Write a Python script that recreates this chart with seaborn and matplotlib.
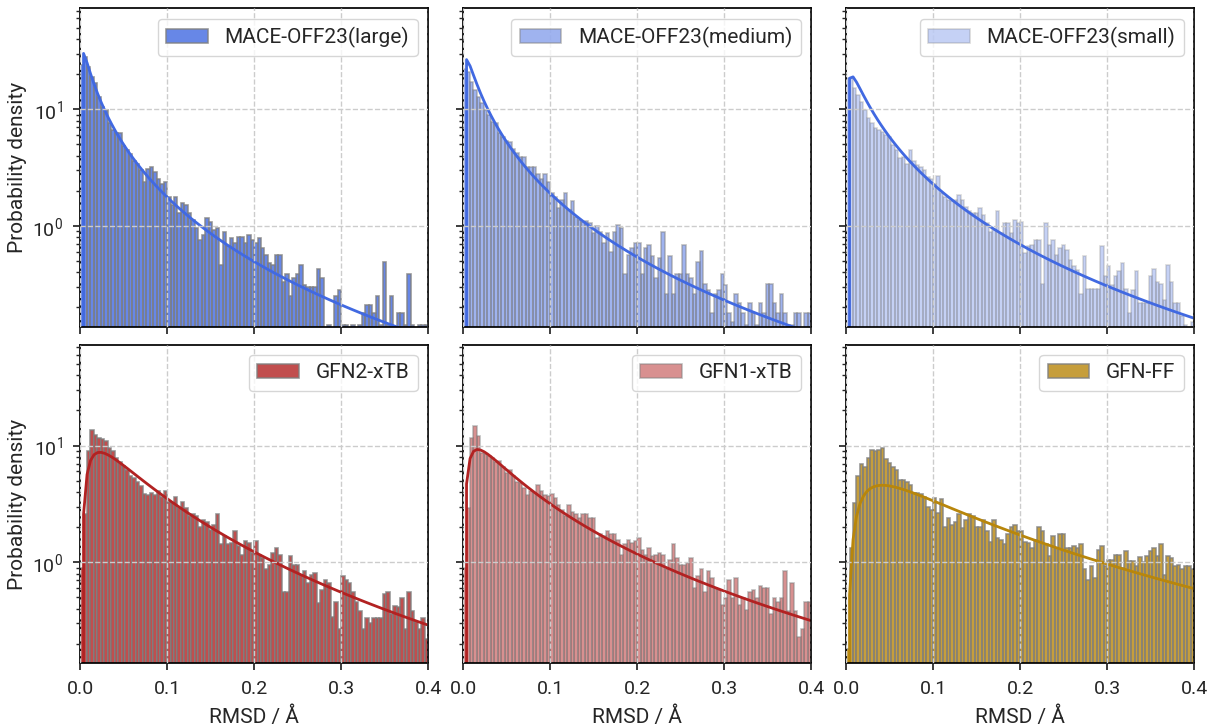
import numpy as np
import pandas as pd
import matplotlib
matplotlib.use("Agg")
import matplotlib.pyplot as plt
from matplotlib.colors import to_rgba
import seaborn as sns

# ---------------- data ----------------
names = ["MACE-OFF23(large)", "MACE-OFF23(medium)", "MACE-OFF23(small)",
         "GFN2-xTB", "GFN1-xTB", "GFN-FF"]

x_min, x_max, n_bins = 0.0, 0.4, 100

mace_large = [24, 28, 23, 18.8, 16.7, 12.8, 10.5, 9.9, 7.6, 6.65,
              6.2, 6.2, 4.8, 4.5, 4.1, 3.6, 3.4, 3.0, 2.4, 3.1,
              3.2, 2.9, 2.5, 2.3, 2.4, 1.78, 1.51, 1.78, 1.28, 1.56,
              1.51, 1.28, 1.12, 0.95, 0.76, 0.84, 1.16, 1.09, 0.92, 0.95,
              0.46, 0.89, 0.67, 0.78, 0.71, 0.81, 0.81, 0.71, 0.84, 0.76,
              0.72, 0.78, 0.64, 0.56, 0.48, 0.46, 0.56, 0.56, 0.33, 0.39,
              0.25, 0.36, 0.39, 0.46, 0.31, 0.30, 0.30, 0.30, 0.43, 0.36,
              0, 0.14, 0, 0.25, 0.28, 0.14, 0.14, 0, 0.14, 0,
              0.14, 0.18, 0.21, 0.21, 0.18, 0.25, 0.14, 0.49, 0.14, 0.25,
              0, 0.18, 0.18, 0.14, 0.39, 0.14, 0, 0.14, 0.14, 0.14]

mace_medium = [22, 21, 17, 14.6, 12.8, 11.3, 9.9, 8.9, 7.8, 7.6,
               6.2, 5.8, 5.3, 5.2, 4.6, 4.2, 3.9, 3.9, 3.2, 3.2,
               3.2, 2.8, 2.5, 2.8, 2.4, 1.9, 1.78, 1.42, 1.67, 1.9,
               1.37, 1.62, 1.2, 1.12, 1.09, 1.11, 1.05, 0.87, 0.99, 0.89,
               0.71, 0.87, 0.60, 0.89, 1.02, 0.95, 0.39, 0.56, 0.64, 0.71,
               0.71, 0.39, 0.64, 0.69, 0.55, 0.36, 0.53, 0.89, 0.26, 0.55,
               0.26, 0.39, 0.39, 0.69, 0.39, 0.36, 0.26, 0.49, 0.61, 0.32,
               0.28, 0.18, 0.26, 0.28, 0.39, 0.31, 0.18, 0.15, 0.26, 0.22,
               0.18, 0.14, 0.22, 0.18, 0.14, 0.22, 0.18, 0.32, 0.32, 0.22,
               0.18, 0.26, 0.18, 0.14, 0.14, 0.18, 0.18, 0, 0.18, 0.18]

mace_small = [18.4, 18.4, 15.1, 13.3, 11.6, 9.9, 8.4, 7.6, 6.9, 6.65,
              6.4, 6.0, 5.8, 4.9, 4.5, 3.8, 3.9, 3.4, 4.5, 3.6,
              3.3, 3.2, 3.0, 2.6, 2.5, 2.3, 2.7, 1.9, 1.78, 1.67,
              1.62, 1.67, 1.84, 1.67, 1.46, 1.33, 1.28, 1.28, 1.42, 1.24,
              1.05, 0.89, 0.92, 1.33, 0.87, 1.05, 1.05, 0.87, 1.12, 1.05,
              1.09, 0.58, 0.67, 0.69, 0.76, 0.76, 0.32, 1.05, 0.69, 0.76,
              0.56, 0.64, 0.69, 0.62, 0.51, 0.45, 0.42, 0.26, 0.55, 0.29,
              0.29, 0.29, 0.29, 0.67, 0.37, 0.45, 0.31, 0.37, 0.41, 0.48,
              0.29, 0.18, 0.28, 0.41, 0.22, 0.22, 0.22, 0.37, 0.43, 0.33,
              0.32, 0.23, 0.46, 0.33, 0.22, 0.22, 0.17, 0.14, 0, 0.15]

gfn2_xtb = [0.9, 2.6, 8.9, 13.7, 12.4, 11.6, 11.3, 11.0, 9.5, 8.9,
            7.8, 7.3, 6.65, 6.2, 5.5, 5.3, 4.9, 4.5, 3.85, 3.8,
            3.9, 3.8, 4.1, 3.6, 4.1, 3.3, 3.2, 3.6, 2.9, 3.3,
            2.9, 2.5, 2.6, 2.5, 2.0, 2.3, 2.2, 1.9, 2.1, 2.6,
            1.42, 1.67, 1.42, 1.46, 1.84, 1.37, 1.16, 1.51, 1.46, 1.2,
            1.51, 1.16, 1.09, 0.87, 0.95, 1.2, 1.33, 1.16, 0.56, 0.56,
            1.13, 0.95, 0.95, 0.78, 0.84, 0.67, 0.78, 0.81, 0.45, 0.58,
            0.71, 0.67, 0.34, 0.46, 0.27, 0.76, 0.71, 0.67, 0.56, 0.46,
            0.38, 0.27, 0.33, 0.30, 0.33, 0.33, 0.33, 0.53, 0.56, 0.36,
            0.42, 0.41, 0.49, 0.27, 0.56, 0.38, 0.31, 0.27, 0.33, 0.22]

gfn1_xtb = [0.9, 2.9, 11.6, 14.7, 12.0, 8.65, 8.4, 8.1, 7.9, 7.3,
            7.4, 6.6, 5.8, 6.2, 5.5, 4.9, 4.8, 4.3, 3.8, 4.1,
            3.9, 4.6, 4.1, 3.8, 3.7, 3.85, 3.55, 3.1, 2.8, 2.5,
            3.1, 2.7, 2.6, 2.4, 2.6, 2.6, 2.4, 2.4, 1.6, 1.73,
            1.67, 1.84, 1.73, 1.73, 1.56, 1.16, 1.42, 1.56, 1.46, 1.51,
            1.6, 1.28, 1.16, 1.33, 1.13, 1.16, 1.2, 1.16, 0.87, 1.05,
            1.42, 1.09, 0.95, 0.95, 0.99, 1.09, 0.6, 0.76, 0.87, 0.55,
            0.84, 0.73, 0.6, 0.58, 0.43, 0.49, 0.71, 0.49, 0.73, 0.43,
            0.49, 0.39, 0.55, 0.58, 0.49, 0.62, 0.6, 0.6, 0.36, 0.49,
            0.46, 0.49, 0.84, 0.38, 0.67, 0.38, 0.23, 0.27, 0.46, 0.46]

gfn_ff = [0.18, 1.33, 3.2, 5.5, 6.9, 6.6, 7.8, 9.2, 8.9, 9.2,
          9.55, 7.6, 7.1, 6.6, 6.2, 5.1, 5.1, 4.9, 4.6, 3.9,
          3.9, 3.85, 3.6, 3.0, 2.8, 3.55, 2.65, 3.45, 2.0, 2.4,
          2.1, 2.2, 2.6, 1.95, 2.3, 2.6, 2.5, 2.0, 2.0, 2.3,
          1.84, 1.5, 2.3, 1.6, 1.56, 1.42, 1.73, 2.0, 2.1, 1.84,
          1.84, 1.5, 1.46, 1.33, 1.56, 2.0, 1.84, 1.42, 1.13, 1.67,
          1.33, 1.73, 1.73, 1.33, 1.33, 1.37, 1.33, 1.42, 0.87, 0.71,
          0.92, 0.73, 1.28, 1.37, 0.92, 1.05, 1.05, 1.16, 1.15, 0.89,
          1.24, 1.02, 1.02, 0.92, 1.1, 1.0, 1.13, 1.24, 1.33, 1.13,
          1.42, 0.78, 1.13, 1.09, 0.92, 0.95, 0.87, 0.92, 0.92, 0.87]

densities = [mace_large, mace_medium, mace_small, gfn2_xtb, gfn1_xtb, gfn_ff]

# fitted log-normal parameters (shape s, scale) per method
lognorm_s = [1.43, 1.40, 1.35, 1.10, 1.22, 1.12]
lognorm_scale = [0.0255, 0.0285, 0.0380, 0.0758, 0.0743, 0.146]

# ---------------- styling ----------------
bar_colors = ["#4169E1", "#4169E1", "#4169E1", "#B22222", "#B22222", "#B8860B"]
bar_alphas = [0.8, 0.5, 0.3, 0.8, 0.5, 0.8]
line_colors = ["#4169E1", "#4169E1", "#4169E1", "#B22222", "#B22222", "#B8860B"]

sns.set_theme(style="ticks", context="notebook")
plt.rcParams["font.family"] = ["Roboto", "DejaVu Sans"]
plt.rcParams["mathtext.fontset"] = "custom"
plt.rcParams["mathtext.rm"] = "Roboto"
plt.rcParams["mathtext.it"] = "Roboto:italic"
plt.rcParams["mathtext.bf"] = "Roboto:bold"
plt.rcParams["xtick.major.size"] = 5
plt.rcParams["ytick.major.size"] = 5
plt.rcParams["ytick.minor.size"] = 3
plt.rcParams["xtick.major.pad"] = 7
plt.rcParams["ytick.major.pad"] = 7

fig, axes = plt.subplots(2, 3, figsize=(12.09, 7.26), dpi=100, sharex=True, sharey=True)
fig.subplots_adjust(left=0.0662, right=0.9876, bottom=0.0864, top=0.9886,
                    wspace=0.1006, hspace=0.0555)

edges = np.linspace(x_min, x_max, n_bins + 1)
centers = 0.5 * (edges[:-1] + edges[1:])
xc = np.linspace(x_min, x_max, 100)


def lognorm_pdf(x, s, scale):
    out = np.zeros_like(x)
    m = x > 0
    z = np.log(x[m] / scale)
    out[m] = np.exp(-z ** 2 / (2 * s ** 2)) / (x[m] * s * np.sqrt(2 * np.pi))
    return out


for k, ax in enumerate(axes.flat):
    df = pd.DataFrame({"rmsd": centers, "density": np.asarray(densities[k], float)})
    sns.histplot(data=df, x="rmsd", weights="density", bins=edges.tolist(), stat="count",
                 color=bar_colors[k], alpha=bar_alphas[k],
                 edgecolor=to_rgba("gray", bar_alphas[k]), linewidth=1.2,
                 label=names[k], ax=ax)
    ax.plot(xc, lognorm_pdf(xc, lognorm_s[k], lognorm_scale[k]),
            color=line_colors[k], lw=2)
    ax.set_yscale("log")
    ax.set_xlim(x_min, x_max)
    ax.set_ylim(0.136, 73.4)
    ax.set_axisbelow(False)
    ax.grid(True, which="major", ls="--", color="#cccccc", lw=1)
    ax.set_xticks([0.0, 0.1, 0.2, 0.3, 0.4])
    ax.tick_params(labelsize=14)
    ax.legend(loc="upper right", fontsize=15, frameon=True)
    row, col = divmod(k, 3)
    ax.set_ylabel("Probability density" if col == 0 else "", fontsize=15)
    ax.set_xlabel("RMSD / Å" if row == 1 else "", fontsize=15, labelpad=6)
    for sp in ax.spines.values():
        sp.set_visible(True)
        sp.set_color("black")

fig.savefig("out.png", dpi=100)
